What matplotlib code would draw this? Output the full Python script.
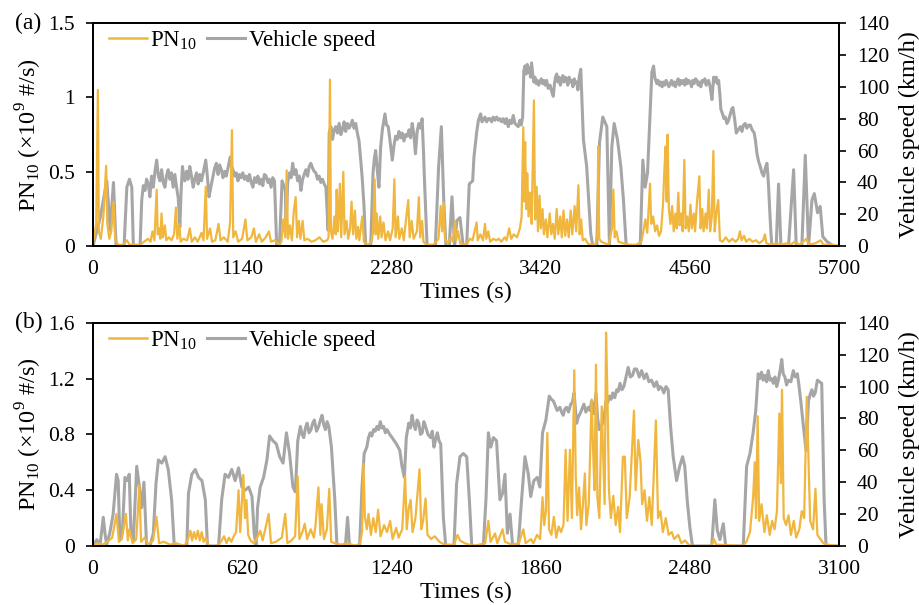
import matplotlib
matplotlib.use("Agg")
import matplotlib.pyplot as plt
from matplotlib.lines import Line2D

plt.rcParams["font.family"] = ["Liberation Serif", "DejaVu Serif"]
plt.rcParams["mathtext.fontset"] = "custom"
plt.rcParams["mathtext.rm"] = "Liberation Serif"
plt.rcParams["font.size"] = 17.5

# ---- panel (a): time (s), speed (km/h) ----
speed_a = [
    (0, 0), (56, 18), (106, 41), (132, 10), (157, 40), (177, 0), (238, 0), (259, 37), (279, 42),
    (297, 37), (309, 0), (360, 0), (373, 29), (385, 38), (398, 35), (410, 42), (423, 39), (435, 31),
    (448, 44), (461, 37), (474, 47), (487, 54), (500, 44), (512, 41), (525, 48), (537, 40), (550, 37),
    (562, 44), (575, 48), (588, 42), (600, 46), (613, 37), (626, 45), (639, 37), (652, 30), (664, 12),
    (674, 35), (684, 50), (693, 44), (702, 41), (715, 47), (727, 42), (740, 50), (753, 44), (766, 37),
    (778, 42), (791, 46), (804, 39), (816, 45), (829, 41), (845, 47), (862, 54), (875, 43), (887, 31),
    (903, 38), (918, 44), (930, 49), (943, 52), (956, 45), (968, 51), (981, 48), (994, 43), (1006, 47),
    (1019, 44), (1034, 50), (1049, 56), (1060, 50), (1070, 48), (1083, 44), (1095, 46), (1108, 41),
    (1120, 45), (1133, 43), (1145, 46), (1158, 42), (1171, 44), (1184, 41), (1196, 45), (1209, 40),
    (1222, 37), (1235, 43), (1248, 40), (1260, 44), (1273, 39), (1286, 42), (1298, 38), (1310, 45),
    (1323, 44), (1336, 40), (1348, 42), (1361, 37), (1374, 43), (1387, 41), (1396, 20), (1404, 0),
    (1425, 0), (1445, 41), (1458, 38), (1470, 35), (1475, 12), (1488, 40), (1501, 46), (1514, 43),
    (1526, 52), (1539, 45), (1551, 48), (1564, 41), (1577, 44), (1589, 35), (1602, 42), (1614, 45),
    (1627, 48), (1640, 44), (1652, 50), (1665, 52), (1678, 49), (1690, 47), (1703, 46), (1716, 42),
    (1728, 44), (1741, 40), (1754, 42), (1767, 39), (1780, 37), (1797, 10), (1805, 71), (1818, 75),
    (1830, 67), (1843, 73), (1856, 75), (1868, 71), (1881, 77), (1894, 70), (1906, 73), (1919, 78),
    (1931, 72), (1944, 77), (1957, 74), (1969, 76), (1982, 79), (1995, 74), (2008, 77), (2020, 71),
    (2033, 66), (2046, 54), (2058, 42), (2071, 25), (2084, 0), (2122, 0), (2140, 46), (2150, 55),
    (2160, 60), (2172, 48), (2185, 37), (2198, 62), (2211, 73), (2221, 78), (2231, 83), (2243, 76),
    (2256, 75), (2270, 66), (2287, 54), (2300, 63), (2312, 69), (2325, 67), (2338, 72), (2350, 68),
    (2363, 71), (2376, 66), (2389, 70), (2402, 69), (2415, 73), (2427, 68), (2439, 77), (2452, 70),
    (2464, 58), (2477, 72), (2490, 77), (2503, 74), (2515, 80), (2525, 60), (2535, 37), (2553, 0),
    (2616, 0), (2641, 50), (2662, 75), (2680, 29), (2697, 0), (2722, 0), (2743, 31), (2763, 0),
    (2780, 16), (2804, 18), (2829, 0), (2855, 0), (2875, 39), (2901, 41), (2911, 56), (2931, 71),
    (2945, 79), (2962, 83), (2972, 78), (2982, 79), (2995, 81), (3008, 78), (3020, 80), (3033, 80),
    (3046, 78), (3058, 81), (3071, 79), (3084, 81), (3097, 79), (3110, 80), (3122, 78), (3135, 80),
    (3148, 77), (3160, 80), (3173, 75), (3185, 79), (3198, 77), (3211, 82), (3224, 77), (3236, 76),
    (3249, 75), (3262, 79), (3272, 76), (3283, 81), (3292, 110), (3300, 113), (3310, 108), (3318, 114),
    (3326, 109), (3335, 112), (3343, 106), (3351, 115), (3360, 108), (3368, 103), (3377, 106),
    (3386, 102), (3395, 104), (3405, 101), (3415, 103), (3425, 105), (3435, 102), (3445, 104),
    (3455, 101), (3466, 104), (3478, 99), (3492, 101), (3505, 97), (3517, 94), (3526, 102), (3534, 106),
    (3543, 108), (3552, 103), (3562, 106), (3571, 101), (3581, 104), (3590, 107), (3600, 103),
    (3610, 106), (3619, 105), (3628, 101), (3638, 106), (3648, 103), (3658, 104), (3667, 100),
    (3677, 105), (3686, 102), (3696, 103), (3705, 98), (3715, 106), (3727, 111), (3747, 67), (3772, 50),
    (3803, 8), (3819, 0), (3849, 0), (3870, 65), (3895, 81), (3926, 75), (3946, 0), (3964, 62),
    (3982, 77), (4007, 67), (4033, 50), (4053, 29), (4074, 0), (4181, 0), (4201, 54), (4219, 37),
    (4237, 46), (4270, 109), (4283, 113), (4292, 106), (4300, 104), (4308, 102), (4318, 104),
    (4328, 101), (4338, 103), (4348, 100), (4359, 103), (4369, 101), (4379, 104), (4390, 102),
    (4400, 100), (4410, 102), (4420, 104), (4430, 101), (4440, 103), (4450, 100), (4461, 103),
    (4471, 105), (4481, 101), (4491, 104), (4501, 102), (4512, 104), (4522, 101), (4532, 105),
    (4542, 102), (4552, 104), (4563, 103), (4573, 100), (4583, 104), (4593, 102), (4603, 105),
    (4614, 104), (4624, 101), (4634, 103), (4644, 100), (4655, 104), (4665, 103), (4675, 105),
    (4685, 101), (4695, 103), (4703, 104), (4715, 100), (4729, 92), (4742, 106), (4752, 103),
    (4762, 106), (4771, 102), (4780, 104), (4790, 95), (4797, 86), (4810, 83), (4821, 80), (4831, 81),
    (4844, 77), (4856, 79), (4870, 83), (4880, 86), (4889, 87), (4902, 80), (4915, 71), (4930, 73),
    (4945, 75), (4958, 72), (4970, 76), (4983, 77), (4996, 74), (5010, 76), (5022, 76), (5036, 73),
    (5052, 71), (5062, 66), (5073, 58), (5086, 53), (5098, 50), (5111, 46), (5124, 44), (5137, 49),
    (5149, 52), (5156, 45), (5162, 37), (5172, 20), (5180, 8), (5187, 0), (5220, 0), (5238, 39),
    (5256, 0), (5314, 0), (5353, 48), (5373, 0), (5416, 0), (5442, 57), (5467, 0), (5493, 29),
    (5511, 33), (5536, 21), (5556, 25), (5576, 6), (5607, 3), (5658, 0), (5700, 0),
]

# panel (a): time (s), PN10 (x1e9 #/s)
pn_a = [
    (0, 0.02), (15, 0.10), (25, 0.15), (38, 1.05), (45, 0.10), (60, 0.05), (80, 0.20), (101, 0.54),
    (110, 0.15), (125, 0.05), (140, 0.10), (157, 0.30), (170, 0.05), (190, 0.01), (230, 0.01),
    (259, 0.04), (280, 0.01), (360, 0.01), (390, 0.03), (420, 0.05), (440, 0.03), (455, 0.10),
    (470, 0.04), (487, 0.38), (495, 0.08), (505, 0.12), (515, 0.05), (524, 0.22), (535, 0.06),
    (550, 0.14), (560, 0.04), (580, 0.06), (600, 0.04), (620, 0.08), (634, 0.26), (645, 0.05),
    (660, 0.15), (670, 0.03), (690, 0.05), (720, 0.04), (740, 0.12), (755, 0.03), (780, 0.06),
    (800, 0.03), (830, 0.09), (845, 0.04), (862, 0.40), (872, 0.05), (895, 0.12), (910, 0.03),
    (935, 0.04), (960, 0.15), (975, 0.04), (1000, 0.06), (1030, 0.03), (1048, 0.16), (1062, 0.78),
    (1072, 0.06), (1090, 0.10), (1110, 0.03), (1140, 0.05), (1165, 0.18), (1180, 0.04), (1210, 0.06),
    (1230, 0.12), (1245, 0.03), (1270, 0.08), (1290, 0.03), (1320, 0.06), (1345, 0.10), (1360, 0.03),
    (1390, 0.04), (1420, 0.01), (1440, 0.03), (1455, 0.18), (1470, 0.06), (1480, 0.51), (1490, 0.05),
    (1505, 0.14), (1520, 0.04), (1535, 0.24), (1549, 0.33), (1560, 0.06), (1574, 0.17), (1585, 0.05),
    (1602, 0.17), (1615, 0.04), (1640, 0.05), (1670, 0.03), (1700, 0.04), (1730, 0.06), (1760, 0.03),
    (1790, 0.04), (1800, 0.06), (1811, 1.12), (1818, 0.10), (1830, 0.05), (1845, 0.20), (1855, 0.08),
    (1862, 0.38), (1872, 0.10), (1887, 0.42), (1897, 0.06), (1913, 0.50), (1922, 0.08), (1938, 0.17),
    (1950, 0.05), (1965, 0.12), (1976, 0.30), (1988, 0.08), (2002, 0.24), (2012, 0.05), (2025, 0.13),
    (2035, 0.04), (2058, 0.20), (2070, 0.03), (2100, 0.01), (2130, 0.03), (2140, 0.10), (2152, 0.45),
    (2160, 0.08), (2168, 0.22), (2180, 0.05), (2195, 0.20), (2205, 0.06), (2220, 0.16), (2235, 0.04),
    (2255, 0.10), (2270, 0.04), (2290, 0.12), (2303, 0.45), (2312, 0.06), (2330, 0.20), (2340, 0.05),
    (2360, 0.12), (2375, 0.04), (2392, 0.18), (2409, 0.31), (2420, 0.06), (2435, 0.17), (2450, 0.05),
    (2475, 0.10), (2490, 0.33), (2500, 0.06), (2515, 0.17), (2525, 0.03), (2550, 0.01), (2600, 0.01),
    (2640, 0.05), (2657, 0.27), (2668, 0.10), (2680, 0.29), (2690, 0.05), (2710, 0.02), (2735, 0.06),
    (2750, 0.03), (2766, 0.17), (2775, 0.04), (2790, 0.10), (2805, 0.02), (2830, 0.01), (2860, 0.02),
    (2880, 0.05), (2900, 0.04), (2931, 0.16), (2940, 0.04), (2960, 0.08), (2980, 0.04), (2995, 0.15),
    (3005, 0.05), (3020, 0.10), (3035, 0.03), (3060, 0.05), (3080, 0.04), (3100, 0.05), (3120, 0.03),
    (3145, 0.06), (3160, 0.04), (3180, 0.12), (3195, 0.05), (3215, 0.08), (3240, 0.06), (3262, 0.12),
    (3275, 0.20), (3288, 0.80), (3296, 0.30), (3302, 0.70), (3310, 0.25), (3318, 0.49), (3328, 0.20),
    (3340, 0.36), (3352, 0.15), (3369, 0.98), (3378, 0.18), (3390, 0.40), (3400, 0.10), (3412, 0.34),
    (3422, 0.12), (3435, 0.25), (3445, 0.08), (3460, 0.18), (3472, 0.06), (3490, 0.22), (3502, 0.08),
    (3515, 0.15), (3528, 0.05), (3543, 0.25), (3555, 0.08), (3570, 0.20), (3582, 0.06), (3595, 0.24),
    (3608, 0.07), (3622, 0.18), (3635, 0.06), (3650, 0.24), (3662, 0.08), (3680, 0.27), (3692, 0.10),
    (3709, 0.41), (3718, 0.08), (3730, 0.18), (3742, 0.04), (3760, 0.05), (3780, 0.02), (3800, 0.01),
    (3840, 0.01), (3855, 0.10), (3860, 0.67), (3868, 0.05), (3885, 0.03), (3910, 0.02), (3940, 0.01),
    (3965, 0.12), (3976, 0.38), (3986, 0.06), (4000, 0.10), (4015, 0.03), (4050, 0.02), (4100, 0.01),
    (4150, 0.01), (4190, 0.03), (4205, 0.10), (4220, 0.18), (4235, 0.09), (4256, 0.42), (4265, 0.15),
    (4280, 0.20), (4295, 0.10), (4310, 0.14), (4325, 0.07), (4340, 0.10), (4355, 0.28), (4365, 0.50),
    (4375, 0.67), (4383, 0.30), (4390, 0.75), (4400, 0.25), (4412, 0.15), (4425, 0.27), (4437, 0.10),
    (4450, 0.22), (4460, 0.12), (4472, 0.36), (4482, 0.14), (4495, 0.22), (4505, 0.10), (4518, 0.58),
    (4528, 0.12), (4540, 0.20), (4552, 0.10), (4565, 0.28), (4575, 0.12), (4590, 0.22), (4600, 0.10),
    (4615, 0.30), (4633, 0.47), (4642, 0.12), (4655, 0.25), (4665, 0.10), (4680, 0.22), (4690, 0.12),
    (4705, 0.38), (4715, 0.10), (4728, 0.20), (4740, 0.64), (4750, 0.10), (4762, 0.22), (4777, 0.31),
    (4790, 0.04), (4810, 0.03), (4835, 0.06), (4860, 0.03), (4885, 0.05), (4910, 0.03), (4930, 0.05),
    (4943, 0.10), (4955, 0.04), (4975, 0.07), (4990, 0.03), (5015, 0.05), (5040, 0.03), (5065, 0.04),
    (5090, 0.02), (5120, 0.04), (5134, 0.08), (5145, 0.02), (5180, 0.01), (5230, 0.02), (5260, 0.01),
    (5300, 0.02), (5330, 0.01), (5360, 0.03), (5400, 0.01), (5450, 0.05), (5470, 0.01), (5520, 0.02),
    (5560, 0.04), (5580, 0.01), (5650, 0.01), (5700, 0.0),
]

# ---- panel (b) ----
speed_b = [
    (0, 0), (16, 4), (30, 1), (43, 18), (50, 8), (57, 1), (70, 8), (84, 20), (98, 45), (105, 41),
    (112, 4), (122, 8), (133, 43), (142, 41), (151, 45), (158, 8), (168, 4), (182, 50), (193, 37),
    (202, 24), (212, 40), (223, 0), (237, 0), (251, 8), (262, 39), (272, 54), (286, 52), (300, 56),
    (313, 48), (327, 29), (338, 0), (390, 0), (397, 33), (411, 45), (425, 48), (439, 43), (453, 41),
    (467, 29), (476, 0), (522, 0), (535, 29), (549, 45), (563, 43), (577, 48), (591, 41), (605, 49),
    (619, 37), (633, 35), (647, 37), (661, 31), (670, 8), (678, 0), (684, 24), (695, 37), (709, 43),
    (723, 54), (734, 69), (748, 66), (762, 64), (776, 56), (790, 52), (804, 71), (817, 58), (831, 37),
    (841, 34), (851, 66), (862, 75), (869, 70), (876, 68), (883, 74), (890, 77), (898, 71), (906, 73),
    (913, 77), (920, 79), (929, 72), (938, 75), (945, 79), (952, 82), (959, 76), (966, 73), (973, 78),
    (980, 75), (991, 62), (1005, 29), (1014, 0), (1049, 0), (1058, 18), (1066, 0), (1108, 0),
    (1118, 37), (1127, 58), (1138, 62), (1145, 68), (1152, 71), (1159, 69), (1166, 73), (1173, 72),
    (1180, 75), (1187, 73), (1194, 78), (1201, 74), (1208, 75), (1215, 71), (1222, 73), (1233, 70),
    (1243, 68), (1252, 66), (1261, 64), (1268, 62), (1275, 60), (1284, 50), (1294, 43), (1302, 68),
    (1312, 77), (1319, 74), (1326, 82), (1333, 76), (1340, 73), (1347, 79), (1354, 77), (1361, 70),
    (1368, 71), (1375, 78), (1382, 75), (1392, 70), (1403, 68), (1410, 72), (1417, 62), (1424, 67),
    (1431, 71), (1438, 66), (1445, 64), (1456, 18), (1466, 0), (1500, 0), (1511, 39), (1525, 56),
    (1539, 58), (1553, 56), (1564, 29), (1574, 0), (1622, 0), (1633, 29), (1643, 71), (1653, 62),
    (1664, 68), (1677, 66), (1691, 29), (1702, 33), (1712, 45), (1722, 8), (1733, 20), (1744, 0),
    (1767, 0), (1781, 29), (1795, 56), (1809, 45), (1819, 31), (1832, 41), (1846, 43), (1857, 37),
    (1868, 71), (1882, 79), (1896, 94), (1905, 92), (1913, 91), (1921, 88), (1929, 85), (1940, 87),
    (1947, 84), (1954, 82), (1961, 86), (1968, 87), (1976, 84), (1985, 89), (1992, 90), (1999, 96),
    (2010, 77), (2017, 81), (2024, 83), (2032, 86), (2040, 89), (2048, 84), (2058, 87), (2065, 85),
    (2072, 91), (2082, 83), (2090, 96), (2097, 80), (2104, 73), (2111, 75), (2118, 77), (2125, 82),
    (2132, 91), (2139, 90), (2146, 94), (2153, 92), (2160, 96), (2168, 93), (2176, 98), (2183, 97),
    (2190, 102), (2198, 98), (2206, 100), (2215, 106), (2224, 112), (2233, 106), (2242, 107),
    (2250, 111), (2259, 111), (2270, 106), (2280, 110), (2290, 105), (2300, 108), (2310, 103),
    (2321, 104), (2332, 100), (2342, 103), (2350, 98), (2356, 100), (2364, 99), (2372, 96), (2381, 100),
    (2390, 98), (2400, 75), (2411, 56), (2425, 41), (2438, 50), (2450, 56), (2459, 50), (2469, 29),
    (2480, 12), (2491, 0), (2571, 0), (2584, 29), (2594, 10), (2605, 4), (2619, 14), (2629, 0),
    (2702, 0), (2716, 50), (2730, 58), (2743, 71), (2754, 85), (2764, 108), (2771, 105), (2778, 109),
    (2785, 104), (2792, 107), (2799, 103), (2806, 110), (2813, 104), (2820, 105), (2827, 102),
    (2834, 106), (2841, 100), (2848, 104), (2855, 110), (2862, 117), (2868, 108), (2875, 106),
    (2882, 101), (2889, 104), (2900, 103), (2910, 110), (2918, 106), (2927, 108), (2934, 100),
    (2941, 91), (2952, 75), (2963, 60), (2973, 91), (2980, 95), (2987, 98), (2994, 94), (3001, 96),
    (3010, 104), (3019, 103), (3028, 102), (3038, 29), (3046, 0), (3100, 0),
]

pn_b = [
    (0, 0.0), (20, 0.02), (40, 0.01), (60, 0.03), (80, 0.06), (98, 0.23), (108, 0.03), (120, 0.05),
    (137, 0.23), (145, 0.04), (151, 0.12), (165, 0.02), (180, 0.05), (193, 0.44), (200, 0.03),
    (215, 0.06), (230, 0.01), (250, 0.04), (264, 0.21), (275, 0.02), (295, 0.03), (320, 0.01),
    (345, 0.02), (380, 0.0), (395, 0.05), (405, 0.11), (412, 0.04), (420, 0.10), (428, 0.05),
    (436, 0.11), (444, 0.04), (452, 0.10), (460, 0.03), (470, 0.06), (480, 0.0), (520, 0.0),
    (535, 0.04), (545, 0.07), (555, 0.02), (565, 0.06), (575, 0.03), (585, 0.07), (595, 0.10),
    (605, 0.40), (612, 0.10), (625, 0.51), (632, 0.20), (638, 0.33), (645, 0.08), (655, 0.04),
    (668, 0.02), (680, 0.05), (695, 0.11), (705, 0.04), (716, 0.12), (730, 0.23), (740, 0.02),
    (760, 0.03), (785, 0.06), (799, 0.23), (808, 0.02), (825, 0.04), (840, 0.07), (851, 0.50),
    (858, 0.05), (870, 0.10), (880, 0.16), (890, 0.05), (905, 0.12), (918, 0.06), (925, 0.15),
    (937, 0.42), (945, 0.08), (950, 0.30), (960, 0.05), (972, 0.12), (982, 0.41), (990, 0.03),
    (1005, 0.02), (1030, 0.01), (1060, 0.02), (1090, 0.0), (1110, 0.02), (1118, 0.10), (1124, 0.59),
    (1130, 0.21), (1138, 0.12), (1145, 0.23), (1155, 0.08), (1165, 0.20), (1175, 0.10), (1185, 0.26),
    (1195, 0.07), (1210, 0.15), (1222, 0.10), (1235, 0.18), (1245, 0.05), (1260, 0.13), (1270, 0.06),
    (1285, 0.12), (1297, 0.50), (1304, 0.12), (1312, 0.27), (1320, 0.33), (1328, 0.10), (1340, 0.20),
    (1357, 0.55), (1364, 0.12), (1372, 0.18), (1382, 0.34), (1390, 0.08), (1405, 0.05), (1420, 0.07),
    (1440, 0.03), (1460, 0.01), (1500, 0.01), (1515, 0.08), (1525, 0.04), (1545, 0.02), (1580, 0.0),
    (1630, 0.02), (1643, 0.18), (1652, 0.03), (1671, 0.09), (1680, 0.02), (1702, 0.12), (1712, 0.03),
    (1740, 0.01), (1770, 0.02), (1788, 0.12), (1798, 0.02), (1820, 0.05), (1830, 0.02), (1845, 0.08),
    (1858, 0.05), (1868, 0.35), (1875, 0.15), (1882, 0.25), (1888, 0.81), (1895, 0.12), (1905, 0.08),
    (1915, 0.21), (1925, 0.06), (1935, 0.14), (1945, 0.10), (1955, 0.15), (1964, 0.69), (1972, 0.18),
    (1982, 0.69), (1990, 0.20), (2000, 1.26), (2006, 0.50), (2012, 0.22), (2020, 0.42), (2028, 0.12),
    (2036, 0.30), (2044, 0.52), (2050, 0.15), (2060, 0.30), (2072, 1.05), (2078, 0.69), (2084, 0.40),
    (2090, 1.30), (2096, 0.35), (2104, 0.20), (2114, 1.00), (2120, 0.66), (2126, 0.30), (2132, 1.53),
    (2138, 1.05), (2144, 0.40), (2152, 0.20), (2162, 0.36), (2172, 0.15), (2182, 0.28), (2190, 0.10),
    (2202, 0.64), (2210, 0.64), (2218, 0.20), (2230, 0.35), (2248, 0.97), (2255, 0.40), (2266, 0.76),
    (2275, 0.61), (2282, 0.30), (2292, 0.40), (2302, 0.18), (2312, 0.35), (2322, 0.15), (2339, 0.90),
    (2348, 0.20), (2358, 0.25), (2368, 0.10), (2380, 0.20), (2392, 0.08), (2405, 0.10), (2415, 0.05),
    (2432, 0.08), (2445, 0.02), (2460, 0.04), (2475, 0.01), (2490, 0.0), (2570, 0.0), (2580, 0.05),
    (2590, 0.01), (2700, 0.0), (2715, 0.03), (2730, 0.10), (2743, 0.35), (2750, 0.60), (2755, 0.20),
    (2762, 0.93), (2768, 0.18), (2778, 0.30), (2790, 0.10), (2800, 0.22), (2812, 0.08), (2822, 0.18),
    (2832, 0.12), (2842, 0.25), (2852, 0.95), (2858, 0.45), (2863, 1.12), (2870, 0.20), (2880, 0.15),
    (2890, 0.22), (2900, 0.08), (2912, 0.18), (2922, 0.06), (2935, 0.12), (2945, 0.25), (2955, 0.20),
    (2966, 1.07), (2972, 0.69), (2980, 0.18), (2992, 0.12), (3002, 0.41), (3010, 0.08), (3022, 0.05),
    (3035, 0.02), (3050, 0.01), (3100, 0.0),
]

xticks_a = [0, 1140, 2280, 3420, 4560, 5700]
xticks_b = [0, 620, 1240, 1860, 2480, 3100]
pn_ticks_a = [0, 0.5, 1.0, 1.5]
pn_labels_a = ["0", "0.5", "1", "1.5"]
pn_ticks_b = [0, 0.4, 0.8, 1.2, 1.6]
pn_labels_b = ["0", "0.4", "0.8", "1.2", "1.6"]
speed_ticks = [0, 20, 40, 60, 80, 100, 120, 140]

PN_COLOR = "#F0B63E"
SPEED_COLOR = "#A6A6A6"
PN_LABEL = r"PN$_{\mathregular{10}}$"
TICK_SIZE = 15.5


def _panel(ax, pn, speed, xticks, pn_ticks, pn_labels, tag):
    ax2 = ax.twinx()
    st, sv = zip(*speed)
    ax2.plot(st, sv, color=SPEED_COLOR, lw=2.2, solid_joinstyle="round")
    pt, pv = zip(*pn)
    ax.plot(pt, pv, color=PN_COLOR, lw=1.6)
    # PN drawn on top of the speed trace
    ax.set_zorder(ax2.get_zorder() + 1)
    ax.patch.set_visible(False)

    ax.set_xlim(xticks[0], xticks[-1])
    ax.set_ylim(pn_ticks[0], pn_ticks[-1])
    ax2.set_ylim(0, 140)
    ax.set_xticks(xticks)
    ax.set_yticks(pn_ticks)
    ax.set_yticklabels(pn_labels)
    ax2.set_yticks(speed_ticks)

    ax.tick_params(axis="x", length=0, pad=10, labelsize=TICK_SIZE)
    ax.tick_params(axis="y", length=5, width=1.2, pad=8, labelsize=TICK_SIZE)
    ax2.tick_params(axis="y", length=5, width=1.2, pad=8, labelsize=TICK_SIZE)
    for a in (ax, ax2):
        for s in a.spines.values():
            s.set_linewidth(1.3)

    ax.set_xlabel("Times (s)", labelpad=2)
    ax.set_ylabel("PN$_{\\mathregular{10}}$ (×10$^{\\mathregular{9}}$ #/s)", labelpad=3)
    ax2.set_ylabel("Vehicle speed (km/h)", labelpad=7)

    handles = [Line2D([], [], color=PN_COLOR, lw=1.8), Line2D([], [], color=SPEED_COLOR, lw=2.2)]
    ax.legend(handles, [PN_LABEL, "Vehicle speed"], loc="upper left", ncol=2, frameon=False,
              fontsize=16.5, handlelength=1.65, handletextpad=0.15, columnspacing=0.45,
              bbox_to_anchor=(0.0, 1.045), borderaxespad=0.3)
    bb = ax.get_position()
    ax.figure.text(0.016, bb.y1, tag, va="center", ha="left", fontsize=17)


fig = plt.figure(figsize=(9.2, 6.05), dpi=100)
ax_a = fig.add_axes([0.101, 0.593, 0.811, 0.369])
ax_b = fig.add_axes([0.101, 0.0975, 0.811, 0.369])
_panel(ax_a, pn_a, speed_a, xticks_a, pn_ticks_a, pn_labels_a, "(a)")
_panel(ax_b, pn_b, speed_b, xticks_b, pn_ticks_b, pn_labels_b, "(b)")

fig.savefig("out.png", dpi=100)
